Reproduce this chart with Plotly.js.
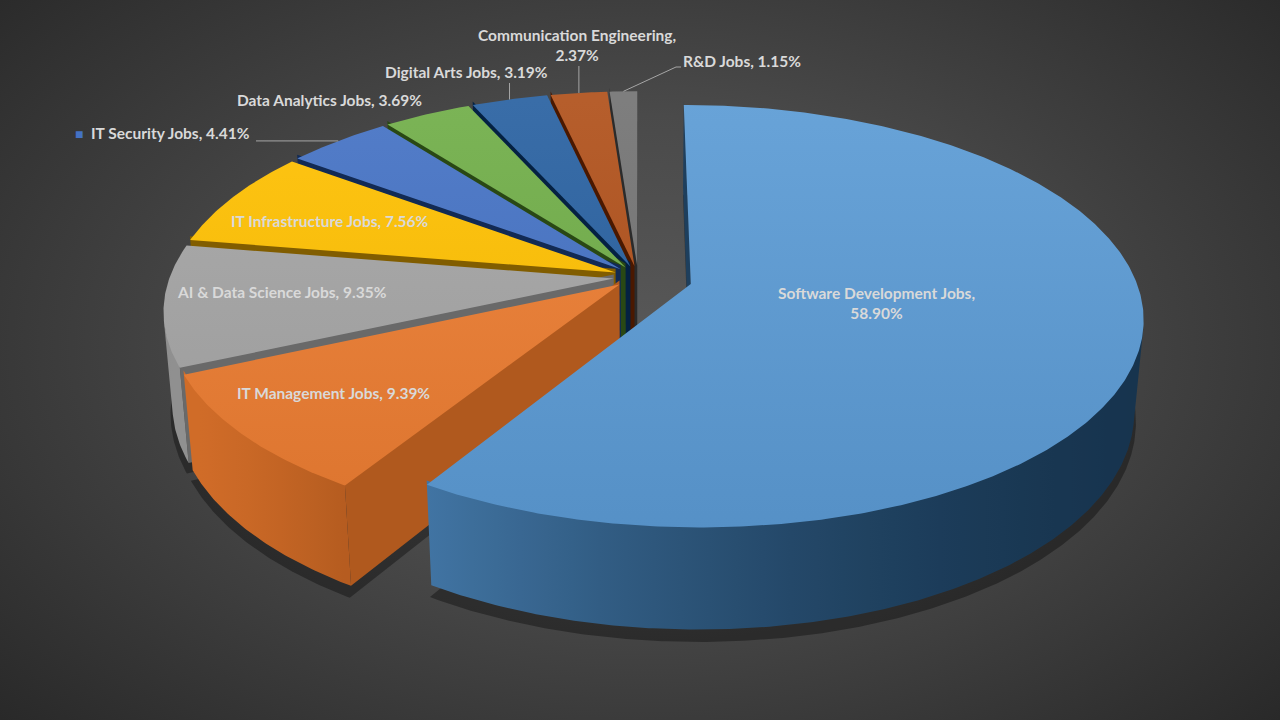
<!DOCTYPE html>
<html>
<head>
<meta charset="utf-8">
<script src="https://cdn.plot.ly/plotly-3.0.1.min.js"></script>
<style>
html, body { margin:0; padding:0; width:1280px; height:720px; overflow:hidden;
  background: radial-gradient(ellipse 72% 80% at 50% 48%, #585858 0%, #4a4a4a 40%, #323232 80%, #262626 100%); }
#chart { width:1280px; height:720px; }
</style>
</head>
<body>
<div id="chart"></div>
<script>
// share of IT jobs by field (%)
const categories = ['Software Development Jobs', 'IT Management Jobs', 'AI & Data Science Jobs',
  'IT Infrastructure Jobs', 'IT Security Jobs', 'Data Analytics Jobs', 'Digital Arts Jobs',
  'Communication Engineering', 'R&D Jobs'];
const shares = [58.90, 9.39, 9.35, 7.56, 4.41, 3.69, 3.19, 2.37, 1.15];
const sliceColors = ['#5B9BD5', '#ED7D31', '#A5A5A5', '#FFC000', '#4472C4', '#70AD47', '#2860A0', '#B0501A', '#737373'];

// --- styles ---
const pull = [0.123, 0.055, 0.055, 0.055, 0.055, 0.055, 0.055, 0.055, 0.055];
const wrapLabel = [true, false, false, false, false, false, false, true, false];
// label anchor (px) and how the text is anchored
const labelPos = [[876, 303, 'center'], [333, 393, 'center'], [282, 292, 'center'], [330, 221, 'center'],
  [73, 133, 'left'], [329, 100, 'center'], [466, 72, 'center'], [577, 45, 'center'], [681, 61, 'left']];
// leader lines: v = vertical up to y, h = horizontal to x, e = elbow
const leaders = [null, null, null, null, {k: 'h', x: 256}, null, {k: 'v', y: 83}, {k: 'v', y: 66}, {k: 'e', x: 676, y: 67}];

const cam = {cx: 638, cy: 277, S: 444, D: 5.86, sin: 0.46, thick: 0.235};
cam.cos = Math.sqrt(1 - cam.sin * cam.sin);

function project(X, Y, Z) {
  const qy = Y - cam.D * cam.sin, qz = Z + cam.D * cam.cos;
  const dep = -qy * cam.sin + qz * cam.cos;
  const up = qy * cam.cos + qz * cam.sin;
  return [cam.cx + cam.S * cam.D * X / dep, cam.cy - cam.S * cam.D * up / dep, dep];
}

function rgb(hex) {
  return [1, 3, 5].map(k => parseInt(hex.substr(k, 2), 16));
}
function toCss(c) {
  return 'rgb(' + c.map(v => Math.round(Math.max(0, Math.min(255, v)))).join(',') + ')';
}
function shade(hex, f) {
  return toCss(rgb(hex).map(v => f <= 1 ? v * f : v + (255 - v) * (f - 1)));
}
// darker shade that keeps the hue saturated (for side walls)
function shadeWall(hex, f) {
  return toCss(rgb(hex).map(v => v * f - (255 - v) * (1 - f) * 0.12));
}
const rad = d => d * Math.PI / 180;

// wall light: brightest facing front-left
function wallLight(th) {
  const k = (1 + Math.cos(rad(th - 245))) / 2;
  return 0.38 + 0.5 * k * k * k;
}
function cutLight(nAng) {
  return 0.45 + 0.3 * Math.max(0, Math.cos(rad(nAng - 110)));
}

const total = shares.reduce((a, b) => a + b, 0);
let acc = 0;
const slices = shares.map((v, i) => {
  const a = acc / total * 360;
  acc += v;
  const b = acc / total * 360;
  const m = rad((a + b) / 2);
  return {i, a, b, ox: pull[i] * Math.sin(m), oz: pull[i] * Math.cos(m)};
});

function rim(s, th, Y, r) {
  r = r === undefined ? 1 : r;
  return project(s.ox + r * Math.sin(rad(th)), Y, s.oz + r * Math.cos(rad(th)));
}
function samples(a, b, step) {
  const n = Math.max(2, Math.ceil((b - a) / step) + 1);
  const out = [];
  for (let k = 0; k < n; k++) out.push(a + (b - a) * k / (n - 1));
  return out;
}
function poly(pts, extra) {
  return Object.assign({
    type: 'scatter', mode: 'lines', x: pts.map(p => p[0]), y: pts.map(p => p[1]),
    fill: 'toself', line: {width: 0}, hoverinfo: 'skip', showlegend: false
  }, extra);
}
const avgDepth = pts => pts.reduce((a, p) => a + p[2], 0) / pts.length;

const camX = 0, camZ = -cam.D * cam.cos;
const shadows = [], walls = [], tops = [];
const T = cam.thick;

slices.forEach(s => {
  const col = sliceColors[s.i];
  const ths = samples(s.a, s.b, 0.5);

  // soft shadow under the slice
  const sh = [project(s.ox, -T - 0.025, s.oz)].concat(ths.map(t => rim(s, t, -T - 0.025, 1.006)));
  shadows.push(poly(sh, {fillcolor: 'rgba(0,0,0,0.35)'}));

  // outer curved wall, only the part facing the camera
  const vis = ths.filter(t => {
    const px = s.ox + Math.sin(rad(t)), pz = s.oz + Math.cos(rad(t));
    return Math.sin(rad(t)) * (camX - px) + Math.cos(rad(t)) * (camZ - pz) > 0;
  });
  if (vis.length >= 2) {
    const topE = vis.map(t => rim(s, t, 0.01));
    const botE = vis.map(t => rim(s, t, -T)).reverse();
    const pts = topE.concat(botE);
    const xs = topE.map(p => p[0]);
    const x0 = Math.min(...xs), x1 = Math.max(...xs);
    let stops = vis.map((t, k) => [(topE[k][0] - x0) / (x1 - x0 || 1), shadeWall(col, wallLight(t))]);
    stops.sort((p, q) => p[0] - q[0]);
    stops = stops.filter((p, k) => k % 6 === 0 || k === stops.length - 1);
    stops[0][0] = 0;
    stops[stops.length - 1][0] = 1;
    walls.push({d: avgDepth(pts), t: poly(pts, {
      fillcolor: shadeWall(col, wallLight((vis[0] + vis[vis.length - 1]) / 2)),
      fillgradient: {type: 'horizontal', start: x0, stop: x1, colorscale: stops}
    })});
  }

  // radial cut faces
  [[s.a, -1], [s.b, 1]].forEach(([th, sg]) => {
    const nx = sg * Math.cos(rad(th)), nz = -sg * Math.sin(rad(th));
    if (nx * (camX - s.ox) + nz * (camZ - s.oz) <= 0) return;
    const pts = [project(s.ox, 0.01, s.oz), rim(s, th, 0.01), rim(s, th, -T), project(s.ox, -T, s.oz)];
    walls.push({d: avgDepth(pts), t: poly(pts, {fillcolor: shadeWall(col, cutLight(th + sg * 90))})});
  });

  // top face
  const tp = [project(s.ox, 0, s.oz)].concat(ths.map(t => rim(s, t, 0)));
  tops.push(poly(tp, {
    fillcolor: col,
    fillgradient: {type: 'vertical', start: 100, stop: 540,
      colorscale: [[0, shade(col, 1.08)], [1, shade(col, 0.93)]]}
  }));
});

walls.sort((p, q) => q.d - p.d);
const traces = shadows.concat(walls.map(w => w.t), tops);

// labels
const font = {family: 'Lato, "Open Sans", sans-serif', size: 15.5, color: '#d9d9d9', weight: 'bold'};
const annotations = slices.map(s => {
  const i = s.i;
  let txt = categories[i] + ',' + (wrapLabel[i] ? '<br>' : ' ') + shares[i].toFixed(2) + '%';
  if (i === 4) txt = '<span style="color:' + sliceColors[4] + ';font-size:14px">■</span>  ' + txt;
  return {x: labelPos[i][0], y: labelPos[i][1], xref: 'x', yref: 'y', text: txt, showarrow: false,
    xanchor: labelPos[i][2], yanchor: 'middle', align: 'center', font: font};
});

const shapes = [];
slices.forEach(s => {
  const L = leaders[s.i];
  if (!L) return;
  const tip = rim(s, (s.a + s.b) / 2, 0);
  let path;
  if (L.k === 'v') path = `M ${tip[0]} ${tip[1]} L ${tip[0]} ${L.y}`;
  else if (L.k === 'h') path = `M ${tip[0]} ${tip[1]} L ${L.x} ${tip[1]}`;
  else path = `M ${tip[0]} ${tip[1]} L ${L.x} ${L.y} L ${L.x + 5} ${L.y}`;
  shapes.push({type: 'path', path: path, xref: 'x', yref: 'y', line: {color: '#a6a6a6', width: 1}});
});

const layout = {
  width: 1280, height: 720, margin: {l: 0, r: 0, t: 0, b: 0},
  paper_bgcolor: 'rgba(0,0,0,0)', plot_bgcolor: 'rgba(0,0,0,0)',
  xaxis: {range: [0, 1280], visible: false, fixedrange: true},
  yaxis: {range: [720, 0], visible: false, fixedrange: true},
  showlegend: false, annotations: annotations, shapes: shapes
};

Plotly.newPlot('chart', traces, layout, {staticPlot: true, displayModeBar: false});
</script>
</body>
</html>
